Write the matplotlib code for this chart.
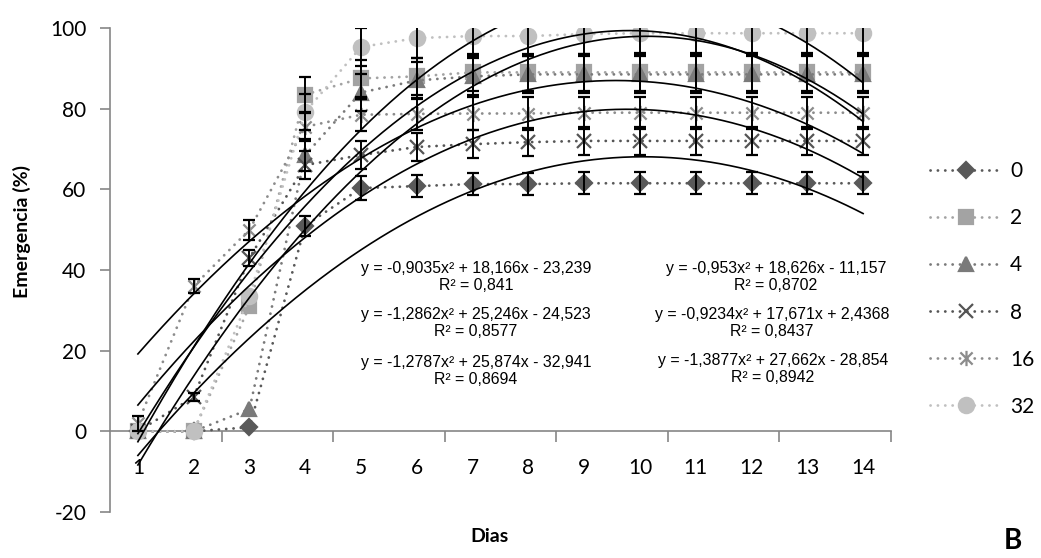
import matplotlib
matplotlib.use("Agg")
import matplotlib.pyplot as plt
import numpy as np
from matplotlib.path import Path

plt.rcParams["axes.unicode_minus"] = False

# Datos: emergencia (%) por dia para cada dosis
dias = np.arange(1, 15)
dosis = ["0", "2", "4", "8", "16", "32"]

em_0 = [0, 0, 1, 51, 60.3, 60.8, 61.3, 61.3, 61.5, 61.5, 61.5, 61.5, 61.5, 61.5]
em_2 = [0, 0, 31, 83.5, 87.5, 88, 89, 89, 89, 89, 89, 89, 89, 89]
em_4 = [0, 0, 5.5, 68.5, 84, 87, 88, 88.5, 88.5, 88.5, 88.5, 88.5, 88.5, 88.5]
em_8 = [0, 8.5, 43, 66, 68.5, 70.5, 71.2, 71.7, 72, 72, 72, 72, 72, 72]
em_16 = [2, 36, 50, 75.5, 78.5, 78.7, 78.8, 78.8, 79, 79, 79, 79, 79, 79]
em_32 = [0, 0, 33.5, 79.2, 95.3, 97.5, 98, 98, 98.5, 98.7, 98.7, 98.7, 98.7, 98.7]

# desviacion (0 = sin barra visible)
err_0 = [0, 0, 0, 2.5, 3, 2.7, 2.7, 2.7, 2.7, 2.7, 2.7, 2.7, 2.7, 2.7]
err_2 = [0, 0, 0, 4.3, 4.5, 4.5, 4.5, 4.5, 4.5, 4.5, 4.5, 4.5, 4.5, 4.5]
err_4 = [0, 0, 0, 4, 4.5, 4.5, 4.5, 4.5, 4.5, 4.5, 4.5, 4.5, 4.5, 4.5]
err_8 = [0, 1, 2, 3.5, 3.5, 3.4, 3.4, 3.4, 3.4, 3.4, 3.4, 3.4, 3.4, 3.4]
err_16 = [1.8, 1.8, 2.5, 3.5, 4, 4, 4, 4, 4, 4, 4, 4, 4, 4]
err_32 = [0, 0, 0, 4.5, 4.7, 5, 5, 5, 5, 5, 5, 5, 5, 5]

# Lineas de tendencia polinomicas (orden 2): y = a x^2 + b x + c
tend_a = [-0.9035, -1.2862, -1.2787, -0.953, -0.9234, -1.3877]
tend_b = [18.166, 25.246, 25.874, 18.626, 17.671, 27.662]
tend_c = [-23.239, -24.523, -32.941, -11.157, 2.4368, -28.854]
tend_r2 = [0.841, 0.8577, 0.8694, 0.8702, 0.8437, 0.8942]

series = [em_0, em_2, em_4, em_8, em_16, em_32]
errores = [err_0, err_2, err_4, err_8, err_16, err_32]

# estilo
asterisco = Path([(-1, -1), (1, 1), (-1, 1), (1, -1), (0, -1.25), (0, 1.25)],
                 [Path.MOVETO, Path.LINETO] * 3)
colores = ["#595959", "#a3a3a3", "#7a7a7a", "#555555", "#8c8c8c", "#c0c0c0"]
marcadores = ["D", "s", "^", "x", asterisco, "o"]
tamanos = [8, 10, 10, 10, 11, 11]

fuente = "Lato"
fig = plt.figure(figsize=(10.41, 5.58), dpi=100)
ax = fig.add_axes([110 / 1041, 1 - 512 / 558, (891 - 110) / 1041, (512 - 28) / 558])

handles = []
for i, (vals, err) in enumerate(zip(series, errores)):
    ln, = ax.plot(dias, vals, color=colores[i], linestyle=(0, (0.05, 2.6)),
                  linewidth=2.0, dash_capstyle="round",
                  marker=marcadores[i], markersize=tamanos[i],
                  markerfacecolor=colores[i], markeredgecolor=colores[i],
                  markeredgewidth=1.6, zorder=3)
    e = np.array(err, dtype=float)
    m = e > 0
    ax.errorbar(dias[m], np.array(vals)[m], yerr=e[m], fmt="none", ecolor="black",
                elinewidth=1.4, capsize=4.5, capthick=1.6, zorder=4)
    handles.append(ln)

xx = np.linspace(1, 14, 300)
for a, b, c in zip(tend_a, tend_b, tend_c):
    ax.plot(xx, a * xx ** 2 + b * xx + c, color="black", linewidth=1.2, zorder=5)


def num(v):
    return f"{abs(v)}".replace(".", ",")


def ecuacion(a, b, c, r2):
    sb = "+" if b >= 0 else "-"
    sc = "+" if c >= 0 else "-"
    return (f"y = -{num(a)}x² {sb} {num(b)}x {sc} {num(c)}\n"
            f"R² = {num(r2)}")


pos_ec = [(476, 277), (476, 323), (476, 371), (776, 277), (772, 323), (773, 369)]
for (px, py), a, b, c, r2 in zip(pos_ec, tend_a, tend_b, tend_c, tend_r2):
    fig.text(px / 1041, 1 - py / 558, ecuacion(a, b, c, r2), ha="center", va="center",
             multialignment="center", fontsize=11.4, family="Liberation Sans",
             linespacing=1.1)

ax.set_xlim(0.5, 14.5)
ax.set_ylim(-20, 100)
ax.spines["top"].set_visible(False)
ax.spines["right"].set_visible(False)
ax.spines["bottom"].set_position(("data", 0))
for s in ["left", "bottom"]:
    ax.spines[s].set_color("#868686")
    ax.spines[s].set_linewidth(1.2)

ax.set_yticks(np.arange(-20, 101, 20))
ax.tick_params(axis="y", direction="out", length=7, width=1.2, color="#868686",
               pad=10, labelsize=15)
ax.set_xticks(np.arange(2.5, 14.6, 2))
ax.set_xticklabels([])
ax.tick_params(axis="x", which="major", direction="out", length=8, width=1.2,
               color="#868686")
ax.set_xticks(dias, minor=True)
ax.set_xticklabels([str(d) for d in dias], minor=True)
ax.tick_params(axis="x", which="minor", length=0, pad=19, labelsize=15)
for lab in ax.get_xticklabels(minor=True) + ax.get_yticklabels():
    lab.set_family(fuente)

fig.text(22 / 1041, 1 - 232 / 558, "Emergencia (%)", fontsize=14, fontweight="bold",
         family=fuente, rotation=90, ha="center", va="center")
fig.text(490 / 1041, 1 - 537 / 558, "Dias", fontsize=14, fontweight="bold",
         family=fuente, ha="center", va="center")
fig.text(1013 / 1041, 1 - 541 / 558, "B", fontsize=20, fontweight="bold",
         family=fuente, ha="center", va="center")

fig.legend(handles, dosis, loc="center left", bbox_to_anchor=(930 / 1041, 1 - 289 / 558),
           frameon=False, handlelength=3.5, handletextpad=0.35, labelspacing=1.3,
           borderpad=0, borderaxespad=0, prop={"family": fuente, "size": 15})

fig.savefig("out.png", dpi=100)
